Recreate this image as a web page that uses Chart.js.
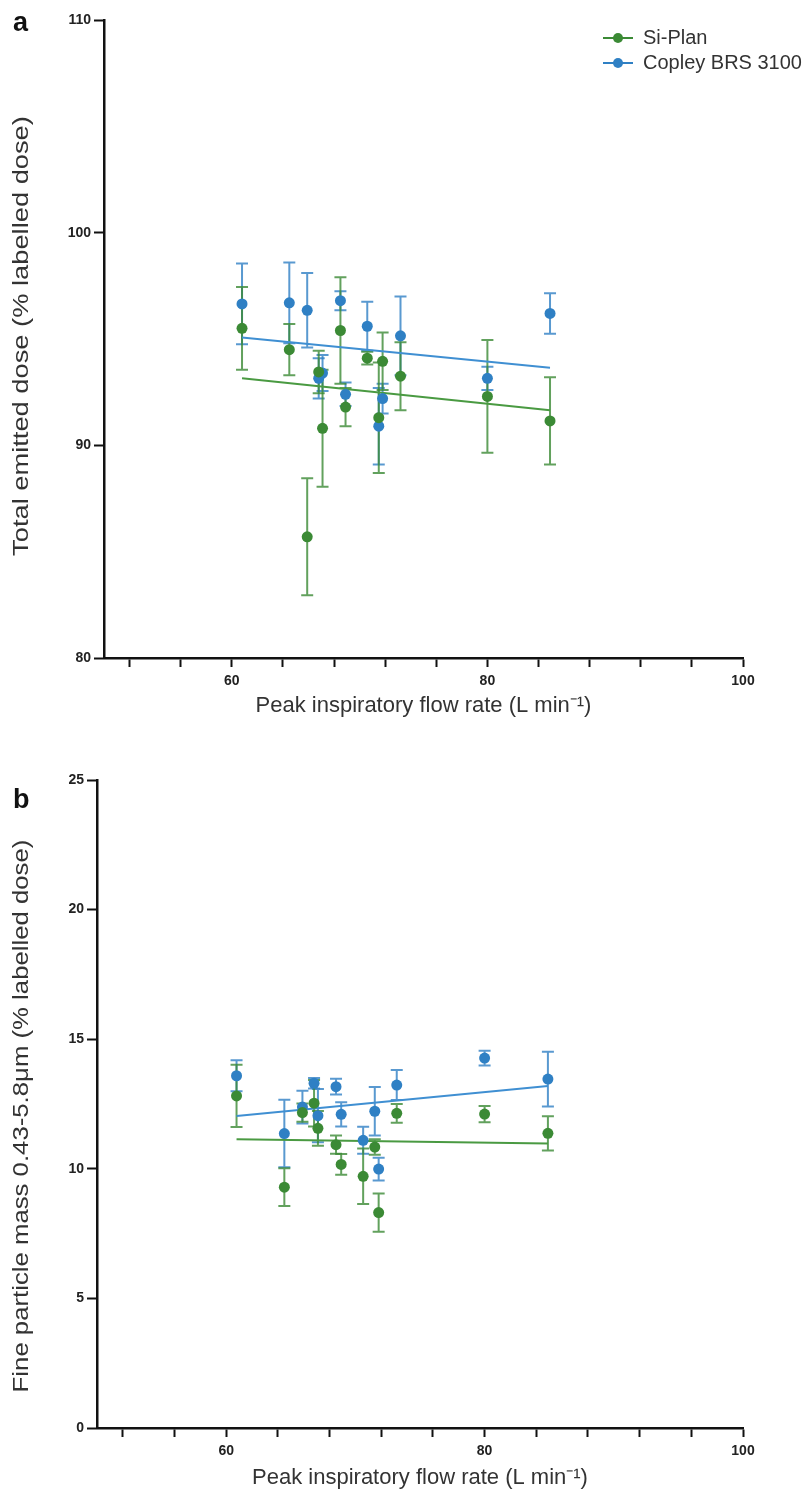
<!DOCTYPE html>
<html>
<head>
<meta charset="utf-8">
<script src="https://cdn.jsdelivr.net/npm/chart.js@4.4.1/dist/chart.umd.min.js"></script>
<style>
  body { margin: 0; background: #fff; width: 809px; height: 1494px; position: relative; overflow: hidden; font-family: "Liberation Sans", Arial, sans-serif; }
  .panel { position: absolute; left: 0; width: 809px; }
  #pa { top: 0; height: 745px; }
  #pb { top: 760px; height: 734px; }
  .tag { position: absolute; left: 13px; font-weight: bold; font-size: 27px; color: #111; }
  .legend { position: absolute; left: 603px; top: 25px; font-size: 20px; color: #333; }
  .legend div { height: 25px; display: flex; align-items: center; }
  .mk { position: relative; width: 30px; height: 2px; margin-right: 10px; }
  .mk::after { content: ""; position: absolute; left: 10px; top: -4px; width: 10px; height: 10px; border-radius: 50%; background: inherit; }
</style>
</head>
<body>
<div class="panel" id="pa"><canvas id="chartA"></canvas></div>
<div class="panel" id="pb"><canvas id="chartB"></canvas></div>
<div class="tag" style="top:7px">a</div>
<div class="tag" style="top:784px">b</div>
<div class="legend">
  <div><span class="mk" style="background:#3b8a35"></span>Si-Plan</div>
  <div><span class="mk" style="background:#2f80c4"></span>Copley BRS 3100</div>
</div>
<script>
// peak inspiratory flow rate of each test (L/min)
const pifr = [60.8, 64.5, 65.9, 66.8, 67.1, 68.5, 68.9, 70.6, 71.5, 71.8, 73.2, 80.0, 84.9];

// a: total emitted dose (% labelled dose), mean and error
const tedSiPlan     = [95.5, 94.5, 85.7, 93.45, 90.8, 95.4, 91.8, 94.1, 91.3, 93.95, 93.25, 92.3, 91.15];
const tedSiPlanErr  = [1.95, 1.2, 2.75, 1.0, 2.75, 2.5, 0.9, 0.3, 2.6, 1.35, 1.6, 2.65, 2.05];
const tedCopley     = [96.65, 96.7, 96.35, 93.15, 93.4, 96.8, 92.4, 95.6, 90.9, 92.2, 95.15, 93.15, 96.2];
const tedCopleyErr  = [1.9, 1.9, 1.75, 0.95, 0.85, 0.45, 0.55, 1.15, 1.8, 0.7, 1.85, 0.55, 0.95];
const tedFitSiPlan  = [93.15, 91.65];
const tedFitCopley  = [95.07, 93.65];

// b: fine particle mass 0.43-5.8um (% labelled dose)
const fpmSiPlan     = [12.81, 9.29, 12.17, 12.53, 11.56, 10.93, 10.17, 9.71, 10.84, 8.31, 12.14, 12.11, 11.37];
const fpmSiPlanErr  = [1.2, 0.73, 0.35, 0.9, 0.67, 0.35, 0.4, 1.07, 0.3, 0.74, 0.36, 0.31, 0.66];
const fpmCopley     = [13.59, 11.36, 12.38, 13.3, 12.05, 13.17, 12.1, 11.1, 12.22, 9.99, 13.23, 14.27, 13.46];
const fpmCopleyErr  = [0.6, 1.3, 0.63, 0.2, 1.03, 0.3, 0.47, 0.52, 0.94, 0.44, 0.58, 0.28, 1.06];
const fpmFitSiPlan  = [11.14, 10.98];
const fpmFitCopley  = [12.04, 13.19];

// axis ticks
const xTickValues = [52, 56, 60, 64, 68, 72, 76, 80, 84, 88, 92, 96, 100];
const xTickLabels = [60, 80, 100];
const fitRange = [60.8, 84.9];

const FONT = '"Liberation Sans", Arial, sans-serif';
const GREEN = '#3b8a35', BLUE = '#2f80c4';

// draws mean +/- error whiskers with caps
const errorBars = {
  id: 'errorBars',
  beforeDatasetsDraw(chart) {
    const { ctx, scales: { x, y } } = chart;
    const sets = chart.data.datasets.slice().reverse();
    sets.forEach(ds => {
      if (!ds.err) return;
      ctx.save();
      ctx.strokeStyle = ds.errColor;
      ctx.lineWidth = 2;
      ds.data.forEach((p, j) => {
        const px = x.getPixelForValue(p.x);
        const top = y.getPixelForValue(p.y + ds.err[j]);
        const bot = y.getPixelForValue(p.y - ds.err[j]);
        ctx.beginPath();
        ctx.moveTo(px, top); ctx.lineTo(px, bot);
        ctx.moveTo(px - 6, top); ctx.lineTo(px + 6, top);
        ctx.moveTo(px - 6, bot); ctx.lineTo(px + 6, bot);
        ctx.stroke();
      });
      ctx.restore();
    });
  }
};

// rotated y title, drawn a little elongated like the original figure
const yTitle = {
  id: 'yTitle',
  afterDraw(chart, args, o) {
    const { ctx, chartArea } = chart;
    ctx.save();
    ctx.translate(o.x, (chartArea.top + chartArea.bottom) / 2 + o.dy);
    ctx.rotate(-Math.PI / 2);
    ctx.scale(o.stretch, 1);
    ctx.font = '22px ' + FONT;
    ctx.fillStyle = '#333';
    ctx.textAlign = 'center';
    ctx.textBaseline = 'middle';
    ctx.fillText(o.text, 0, 0);
    ctx.restore();
  }
};

function pts(ys) { return ys.map((v, i) => ({ x: pifr[i], y: v })); }
function fit(ys) { return ys.map((v, i) => ({ x: fitRange[i], y: v })); }

function makeChart(id, p) {
  const titleLH = 22 * 1.2;
  return new Chart(document.getElementById(id), {
    type: 'scatter',
    data: {
      datasets: [
        { label: 'Si-Plan', data: pts(p.green), err: p.greenErr, errColor: 'rgba(59,138,53,0.8)',
          backgroundColor: GREEN, borderColor: GREEN, pointRadius: 5.5, pointBorderWidth: 0, order: 0 },
        { label: 'Copley BRS 3100', data: pts(p.blue), err: p.blueErr, errColor: 'rgba(47,128,196,0.8)',
          backgroundColor: BLUE, borderColor: BLUE, pointRadius: 5.5, pointBorderWidth: 0, order: 1 },
        { type: 'line', label: 'fit Si-Plan', data: fit(p.greenFit), borderColor: '#4a9a42', borderWidth: 2,
          pointRadius: 0, order: 2 },
        { type: 'line', label: 'fit Copley', data: fit(p.blueFit), borderColor: '#3f8fd2', borderWidth: 2,
          pointRadius: 0, order: 3 }
      ]
    },
    options: {
      responsive: true,
      maintainAspectRatio: false,
      animation: false,
      layout: { padding: { left: 0, top: 20, right: 66, bottom: 0 } },
      plugins: {
        legend: { display: false },
        tooltip: { enabled: false },
        yTitle: { text: p.yTitle, x: 22, stretch: p.stretch, dy: p.dy }
      },
      scales: {
        x: {
          type: 'linear', min: 50, max: 100,
          afterBuildTicks: s => { s.ticks = xTickValues.map(v => ({ value: v })); },
          afterFit: s => { s.height = p.H - p.bottom; },
          ticks: { autoSkip: false, maxRotation: 0, padding: 6, color: '#222',
                   font: { family: FONT, size: 14, weight: 'bold' },
                   callback: v => xTickLabels.includes(v) ? String(v) : '' },
          grid: { drawOnChartArea: false, drawTicks: true, tickLength: 9, tickWidth: 2, color: '#111' },
          border: { display: true, color: '#111', width: 2.5 },
          title: { display: true, text: 'Peak inspiratory flow rate (L min⁻¹)', color: '#333',
                   font: { family: FONT, size: 22 },
                   padding: { top: 0, bottom: p.H - p.titleY - titleLH / 2 } }
        },
        y: {
          min: p.yMin, max: p.yMax,
          afterFit: s => { s.width = p.left; },
          ticks: { stepSize: p.yStep, padding: 3, color: '#222', font: { family: FONT, size: 14, weight: 'bold' } },
          grid: { drawOnChartArea: false, drawTicks: true, tickLength: 10, tickWidth: 2, color: '#111' },
          border: { display: true, color: '#111', width: 2.5 }
        }
      }
    },
    plugins: [errorBars, yTitle]
  });
}

makeChart('chartA', {
  green: tedSiPlan, greenErr: tedSiPlanErr, blue: tedCopley, blueErr: tedCopleyErr,
  greenFit: tedFitSiPlan, blueFit: tedFitCopley,
  yMin: 80, yMax: 110, yStep: 10, H: 745, bottom: 658, titleY: 706, left: 104, stretch: 1.24, dy: -3,
  yTitle: 'Total emitted dose (% labelled dose)'
});

makeChart('chartB', {
  green: fpmSiPlan, greenErr: fpmSiPlanErr, blue: fpmCopley, blueErr: fpmCopleyErr,
  greenFit: fpmFitSiPlan, blueFit: fpmFitCopley,
  yMin: 0, yMax: 25, yStep: 5, H: 734, bottom: 668, titleY: 718, left: 97, stretch: 1.17, dy: 12,
  yTitle: 'Fine particle mass 0.43-5.8μm (% labelled dose)'
});
</script>
</body>
</html>
